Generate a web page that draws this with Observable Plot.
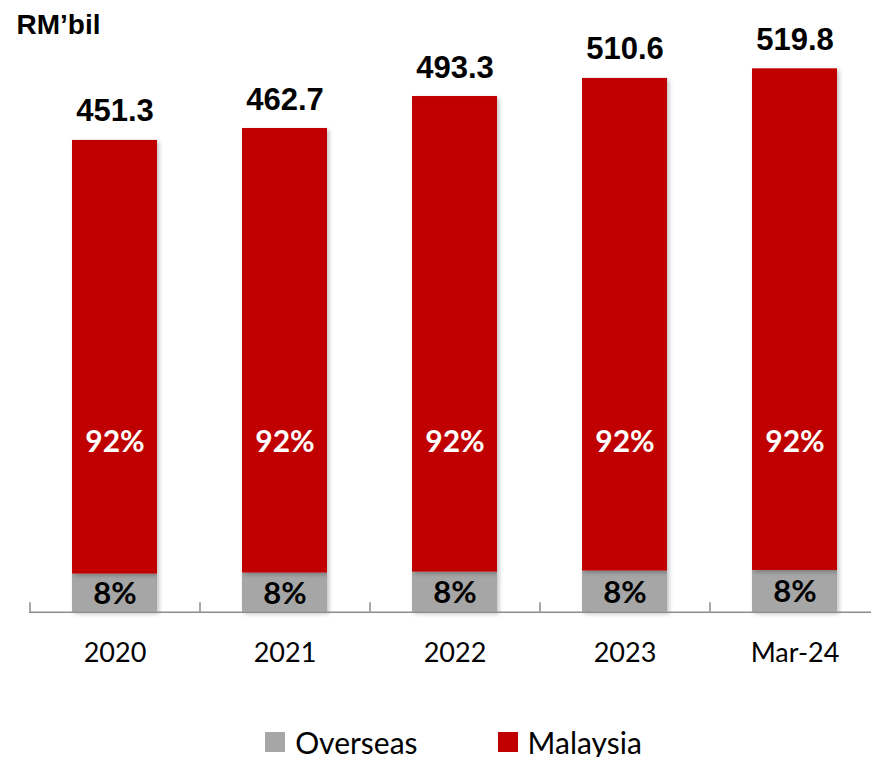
<!DOCTYPE html>
<html>
<head>
<meta charset="utf-8">
<script src="https://cdn.jsdelivr.net/npm/d3@7"></script>
<script src="https://cdn.jsdelivr.net/npm/@observablehq/plot@0.6"></script>
<style>
  html, body { margin: 0; padding: 0; background: #fff; }
  #chart { width: 871px; }
  .legend { display: flex; justify-content: center; align-items: center; gap: 80px; height: 30px; line-height: 30px;
            margin-top: 27px; padding-left: 36px; font-family: Lato, "Open Sans", sans-serif; font-size: 30px; color: #000; }
  .legend .item { display: flex; align-items: center; gap: 10px; line-height: 30px; }
  .legend .sw { width: 20px; height: 20px; display: inline-block; }
  .bars rect { filter: drop-shadow(2px 2px 2px rgba(0,0,0,0.25)); }
</style>
</head>
<body>
<div id="chart"></div>
<script>
// ---- data ----
const categories = ["2020", "2021", "2022", "2023", "Mar-24"];
const totals = [451.3, 462.7, 493.3, 510.6, 519.8];
const overseas = [36.4, 37.4, 38.3, 39.3, 39.9];
const overseasShare = ["8%", "8%", "8%", "8%", "8%"];
const malaysiaShare = ["92%", "92%", "92%", "92%", "92%"];
const seriesNames = ["Overseas", "Malaysia"];
const seriesColors = ["#A6A6A6", "#C00000"];
const unitLabel = "RM\u2019bil";

// ---- table ----
const rows = [];
categories.forEach((c, i) => {
  rows.push({cat: c, series: "Overseas", value: overseas[i]});
  rows.push({cat: c, series: "Malaysia", value: totals[i] - overseas[i]});
});
const totalRows = categories.map((c, i) => ({cat: c, total: totals[i], label: totals[i].toFixed(1)}));
const shareRows = categories.map((c, i) => ({cat: c, overseas: overseas[i], os: overseasShare[i], ms: malaysiaShare[i]}));

const calibriLike = "Lato, 'Open Sans', sans-serif";
const arialLike = "'Liberation Sans', Arial, sans-serif";

const plot = Plot.plot({
  width: 871,
  height: 700,
  marginTop: 26.3,
  marginBottom: 88.3,
  marginLeft: 29,
  marginRight: 0,
  style: {background: "#fff", overflow: "visible"},
  x: {domain: categories, range: [29, 879], paddingInner: 0.5, paddingOuter: 0.25, label: null},
  y: {domain: [0, 560], axis: null},
  color: {domain: seriesNames, range: seriesColors},
  marks: [
    Plot.barY(rows, Plot.stackY({x: "cat", y: "value", fill: "series", order: seriesNames, className: "bars"})),
    Plot.ruleY([0], {stroke: "#8c8c8c", strokeWidth: 1.5}),
    Plot.ruleX(categories, {x: d => d, dx: -85, y1: 0, y2: 9, stroke: "#8c8c8c", strokeWidth: 1.5}),
    Plot.axisX({tickSize: 0, tickPadding: 31, fontSize: 27, fontFamily: calibriLike, fill: "#000"}),
    Plot.text(totalRows, {x: "cat", y: "total", text: "label", lineAnchor: "bottom", dy: -19,
      fontSize: 31, fontWeight: "bold", fontFamily: arialLike, fill: "#000"}),
    Plot.text(shareRows, {x: "cat", text: "ms", frameAnchor: "bottom", dy: -170, lineAnchor: "middle",
      fontSize: 30, fontWeight: "bold", fontFamily: calibriLike, fill: "#fff"}),
    Plot.text(shareRows, {x: "cat", y: d => d.overseas / 2, text: "os", lineAnchor: "middle", dy: 1,
      fontSize: 31, fontWeight: "bold", fontFamily: calibriLike, fill: "#000"}),
    Plot.text([unitLabel], {text: d => d, frameAnchor: "top-left", textAnchor: "start", lineAnchor: "bottom",
      dx: -13, dy: 7, fontSize: 28, fontWeight: "bold", fontFamily: arialLike, fill: "#000"})
  ]
});
document.getElementById("chart").appendChild(plot);

const legend = document.createElement("div");
legend.className = "legend";
seriesNames.forEach((name, i) => {
  const item = document.createElement("span");
  item.className = "item";
  const sw = document.createElement("span");
  sw.className = "sw";
  sw.style.background = seriesColors[i];
  const t = document.createElement("span");
  t.textContent = name;
  item.appendChild(sw); item.appendChild(t);
  legend.appendChild(item);
});
document.getElementById("chart").appendChild(legend);
</script>
</body>
</html>
